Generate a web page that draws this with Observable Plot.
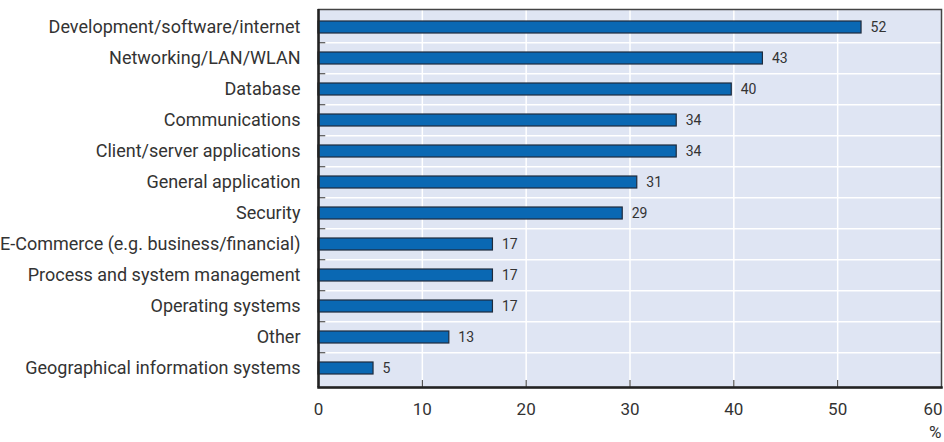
<!DOCTYPE html>
<html>
<head>
<meta charset="utf-8">
<script src="https://cdn.jsdelivr.net/npm/d3@7"></script>
<script src="https://cdn.jsdelivr.net/npm/@observablehq/plot@0.6"></script>
<style>
  html, body { margin: 0; padding: 0; background: #fff; }
  #chart { width: 944px; height: 442px; }
</style>
</head>
<body>
<div id="chart"></div>
<script>
const categories = [
  "Development/software/internet",
  "Networking/LAN/WLAN",
  "Database",
  "Communications",
  "Client/server applications",
  "General application",
  "Security",
  "E-Commerce (e.g. business/financial)",
  "Process and system management",
  "Operating systems",
  "Other",
  "Geographical information systems"
];
const values = [52.3, 42.8, 39.8, 34.5, 34.5, 30.7, 29.3, 16.8, 16.8, 16.8, 12.6, 5.3];
const valueLabels = ["52", "43", "40", "34", "34", "31", "29", "17", "17", "17", "13", "5"];
const xTicks = [0, 10, 20, 30, 40, 50];
const lastTick = [60];
const gridTicks = [10, 20, 30, 40, 50];

const data = categories.map((c, i) => ({category: c, value: values[i], label: valueLabels[i]}));

const W = 944, H = 442;
const mTop = 9, mBottom = 55, mLeft = 318, mRight = 3;
const step = (H - mTop - mBottom) / categories.length;
const font = "Roboto, 'Liberation Sans', sans-serif";

const chart = Plot.plot({
  width: W,
  height: H,
  marginTop: mTop,
  marginBottom: mBottom,
  marginLeft: mLeft,
  marginRight: mRight,
  style: {fontFamily: font, color: "#333", background: "#fff"},
  x: {domain: [0, 60]},
  y: {domain: categories, paddingInner: 0.6, paddingOuter: 0.3},
  marks: [
    Plot.frame({fill: "#dfe5f3", stroke: null}),
    Plot.gridX(gridTicks, {stroke: "#fff", strokeOpacity: 1, strokeWidth: 1.5}),
    Plot.ruleY(categories.slice(1), {dy: -step / 2, stroke: "#fff", strokeWidth: 1.5}),
    Plot.ruleY(categories.slice(1), {dy: -step / 2, x1: 0, x2: 0.7, stroke: "#333", strokeWidth: 1}),
    Plot.barX(data, {y: "category", x: "value", fill: "#0a68b3", stroke: "#1f2b3c", strokeWidth: 1.2}),
    Plot.text(data, {y: "category", x: "value", text: "label", dx: 9, textAnchor: "start", fontSize: 14, fill: "#333"}),
    Plot.axisY({tickSize: 0, tickPadding: 18, fontSize: 18, label: null}),
    Plot.axisX(xTicks, {tickSize: 0, tickPadding: 15, fontSize: 17, label: null}),
    Plot.axisX(lastTick, {tickSize: 0, tickPadding: 15, fontSize: 17, textAnchor: "end", dx: 1, label: "%", labelAnchor: "right", labelArrow: "none", labelOffset: 50}),
    Plot.axisX(gridTicks, {tickSize: -7, text: null, label: null, stroke: "#333"}),
    Plot.frame({stroke: "#444", strokeWidth: 1.5}),
    Plot.ruleX([0], {stroke: "#222", strokeWidth: 2.5}),
    Plot.frame({anchor: "bottom", stroke: "#222", strokeWidth: 2.5})
  ]
});
document.getElementById("chart").appendChild(chart);
</script>
</body>
</html>
